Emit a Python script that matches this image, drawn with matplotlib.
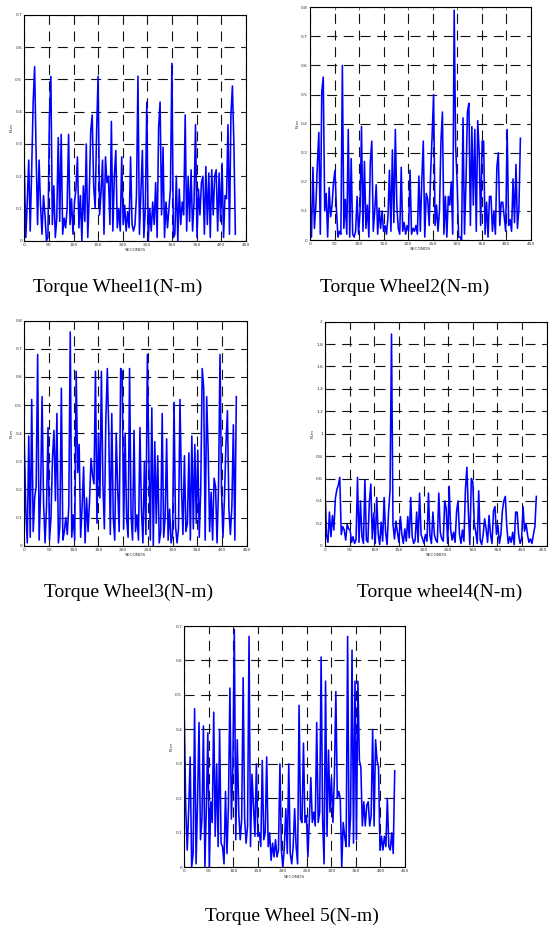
import numpy as np
import matplotlib
matplotlib.use("Agg")
import matplotlib.pyplot as plt

seconds = np.arange(0, 430, 3)

wheel1 = [0.23,0.01,0.12,0.25,0.03,0.22,0.43,0.54,0.27,0.05,0.25,0.11,0.02,0.14,0.08,0.00,0.01,0.38,0.51,0.05,
          0.17,0.01,0.07,0.32,0.06,0.33,0.02,0.07,0.04,0.10,0.33,0.05,0.13,0.02,0.12,0.16,0.26,0.04,0.14,0.00,
          0.17,0.06,0.30,0.01,0.14,0.34,0.39,0.17,0.10,0.34,0.51,0.08,0.15,0.25,0.02,0.26,0.18,0.20,0.05,0.37,
          0.03,0.20,0.28,0.04,0.10,0.03,0.26,0.05,0.11,0.03,0.09,0.04,0.26,0.05,0.03,0.05,0.14,0.51,0.02,0.15,
          0.28,0.01,0.10,0.43,0.00,0.10,0.03,0.12,0.05,0.18,0.01,0.35,0.43,0.08,0.29,0.01,0.12,0.04,0.10,0.16,
          0.55,0.01,0.02,0.20,0.00,0.16,0.05,0.12,0.08,0.39,0.03,0.20,0.06,0.22,0.03,0.12,0.36,0.01,0.16,0.08,
          0.18,0.20,0.02,0.23,0.05,0.21,0.01,0.22,0.08,0.20,0.22,0.03,0.21,0.06,0.24,0.01,0.14,0.13,0.36,0.02,
          0.39,0.48,0.30,0.02]

wheel2 = [0.15,0.01,0.25,0.04,0.12,0.26,0.37,0.02,0.51,0.56,0.10,0.16,0.01,0.18,0.08,0.12,0.20,0.24,0.10,0.01,
          0.03,0.02,0.60,0.04,0.14,0.02,0.38,0.01,0.28,0.02,0.01,0.03,0.15,0.02,0.10,0.39,0.03,0.27,0.04,0.12,
          0.01,0.27,0.34,0.03,0.10,0.19,0.02,0.11,0.04,0.10,0.03,0.05,0.02,0.08,0.24,0.03,0.31,0.06,0.38,0.12,
          0.04,0.02,0.25,0.03,0.06,0.02,0.05,0.03,0.24,0.02,0.04,0.03,0.05,0.02,0.22,0.03,0.21,0.34,0.01,0.16,
          0.14,0.05,0.23,0.36,0.50,0.05,0.12,0.03,0.10,0.34,0.44,0.02,0.15,0.01,0.15,0.12,0.20,0.02,0.79,0.32,
          0.20,0.01,0.01,0.00,0.42,0.02,0.20,0.44,0.47,0.05,0.39,0.12,0.38,0.03,0.41,0.30,0.05,0.34,0.34,0.02,
          0.13,0.01,0.15,0.15,0.03,0.10,0.02,0.25,0.30,0.05,0.13,0.13,0.08,0.03,0.38,0.05,0.07,0.03,0.21,0.06,
          0.26,0.04,0.11,0.35]

wheel3 = [0.36,0.13,0.01,0.39,0.03,0.52,0.05,0.17,0.21,0.68,0.02,0.19,0.53,0.15,0.01,0.14,0.42,0.02,0.10,0.31,
          0.41,0.16,0.47,0.01,0.07,0.56,0.02,0.05,0.10,0.04,0.14,0.76,0.03,0.11,0.02,0.62,0.26,0.36,0.03,0.14,
          0.28,0.01,0.17,0.05,0.16,0.31,0.25,0.22,0.62,0.08,0.40,0.17,0.62,0.22,0.06,0.45,0.63,0.40,0.04,0.47,
          0.10,0.02,0.40,0.20,0.05,0.63,0.62,0.06,0.40,0.10,0.03,0.63,0.11,0.02,0.41,0.05,0.11,0.02,0.42,0.13,
          0.01,0.30,0.04,0.68,0.31,0.02,0.49,0.00,0.37,0.08,0.32,0.01,0.05,0.47,0.03,0.10,0.38,0.02,0.13,0.01,
          0.04,0.51,0.07,0.01,0.06,0.52,0.21,0.04,0.32,0.05,0.08,0.33,0.02,0.39,0.06,0.36,0.08,0.34,0.03,0.20,
          0.63,0.56,0.02,0.53,0.34,0.05,0.19,0.02,0.24,0.21,0.01,0.21,0.68,0.20,0.03,0.17,0.36,0.48,0.13,0.04,
          0.14,0.43,0.02,0.53]

wheel4 = [0.50,0.10,0.03,0.30,0.08,0.27,0.14,0.42,0.50,0.54,0.61,0.10,0.17,0.14,0.05,0.19,0.15,0.14,0.03,0.08,
          0.02,0.05,0.61,0.03,0.40,0.08,0.02,0.59,0.05,0.03,0.39,0.55,0.06,0.29,0.02,0.43,0.10,0.01,0.21,0.04,
          0.43,0.12,0.01,0.30,0.49,1.89,0.19,0.06,0.22,0.12,0.03,0.26,0.10,0.02,0.15,0.04,0.26,0.07,0.43,0.08,
          0.02,0.05,0.30,0.03,0.47,0.10,0.06,0.02,0.10,0.04,0.47,0.09,0.02,0.30,0.10,0.05,0.03,0.47,0.12,0.06,
          0.04,0.40,0.33,0.02,0.53,0.15,0.05,0.12,0.03,0.30,0.40,0.10,0.02,0.14,0.04,0.50,0.70,0.30,0.01,0.60,
          0.57,0.20,0.12,0.02,0.49,0.05,0.01,0.10,0.24,0.15,0.03,0.27,0.10,0.02,0.31,0.35,0.10,0.18,0.02,0.10,
          0.31,0.40,0.44,0.17,0.02,0.08,0.03,0.12,0.01,0.30,0.30,0.10,0.02,0.06,0.35,0.13,0.20,0.10,0.03,0.06,
          0.02,0.10,0.17,0.44]

wheel5 = [0.43,0.17,0.05,0.17,0.32,0.00,0.04,0.46,0.01,0.19,0.42,0.08,0.14,0.41,0.00,0.18,0.39,0.00,0.19,0.13,
          0.45,0.09,0.30,0.06,0.40,0.07,0.06,0.01,0.22,0.04,0.18,0.52,0.14,0.29,0.69,0.08,0.37,0.16,0.08,0.14,
          0.55,0.14,0.07,0.12,0.67,0.06,0.27,0.18,0.09,0.30,0.09,0.10,0.06,0.31,0.08,0.10,0.32,0.06,0.10,0.02,
          0.07,0.03,0.08,0.03,0.05,0.30,0.05,0.00,0.06,0.17,0.04,0.30,0.04,0.01,0.06,0.17,0.06,0.01,0.47,0.14,
          0.13,0.36,0.13,0.15,0.03,0.14,0.26,0.13,0.16,0.12,0.42,0.13,0.16,0.61,0.14,0.01,0.54,0.09,0.34,0.16,
          0.26,0.13,0.26,0.51,0.20,0.22,0.20,0.00,0.13,0.09,0.06,0.67,0.06,0.15,0.63,0.07,0.54,0.08,0.54,0.31,
          0.29,0.12,0.19,0.12,0.18,0.19,0.12,0.15,0.40,0.12,0.37,0.31,0.29,0.05,0.09,0.05,0.09,0.06,0.20,0.06,
          0.05,0.10,0.04,0.28]

captions = ["Torque Wheel1(N-m)", "Torque Wheel2(N-m)", "Torque Wheel3(N-m)",
            "Torque wheel4(N-m)", "Torque Wheel 5(N-m)"]
ymaxes = [0.7, 0.8, 0.8, 2.0, 0.7]
ysteps = [0.1, 0.1, 0.1, 0.2, 0.1]
series = [wheel1, wheel2, wheel3, wheel4, wheel5]

W, H = 549, 926
# axes boxes in pixels: left, top, right, bottom
boxes = [(24.3, 15, 245.7, 240.7),
         (310, 7.3, 530.7, 240),
         (24.3, 320.7, 246.7, 545.7),
         (325, 321.7, 546.7, 545.7),
         (184.3, 626, 405, 867.3)]
cap_pos = [(117.5, 287), (404.5, 287), (129, 592), (440, 592), (292, 916)]

fig = plt.figure(figsize=(W/100, H/100), dpi=100)
fig.patch.set_facecolor("white")

def fmt(v):
    s = ("%.1f" % v)
    if s.endswith(".0"):
        s = s[:-2]
    return s

for k in range(5):
    l, t, r, b = boxes[k]
    ax = fig.add_axes([l/W, 1 - b/H, (r-l)/W, (b-t)/H])
    ax.plot(seconds, series[k], color="#0000ff", lw=1.15)
    ax.set_xlim(0, 450)
    ax.set_ylim(0, ymaxes[k])
    xt = np.arange(0, 451, 50)
    yt = np.arange(0, ymaxes[k] + 1e-9, ysteps[k])
    ax.set_xticks(xt)
    ax.set_yticks(yt)
    ax.set_xticklabels([str(int(v)) for v in xt])
    ax.set_yticklabels([fmt(v) for v in yt])
    ax.tick_params(direction="in", length=2, width=0.5, labelsize=3.2, pad=1.5,
                   top=True, right=True, colors="#333333")
    if r > W - 6:
        ax.get_xticklabels()[-1].set_horizontalalignment("right")
    ax.grid(True, color="#111111", lw=0.8, linestyle=(0, (9, 6)))
    for sp in ax.spines.values():
        sp.set_linewidth(0.8)
        sp.set_color("black")
    ax.set_xlabel("SECONDS", fontsize=3.2, labelpad=1, color="#333333")
    ax.set_ylabel("N-m", fontsize=3.2, labelpad=1, color="#333333")
    cx, cy = cap_pos[k]
    fig.text(cx/W, 1 - cy/H, captions[k], ha="center", va="center",
             fontsize=14, family="Liberation Serif")

fig.savefig("out.png", dpi=100)
